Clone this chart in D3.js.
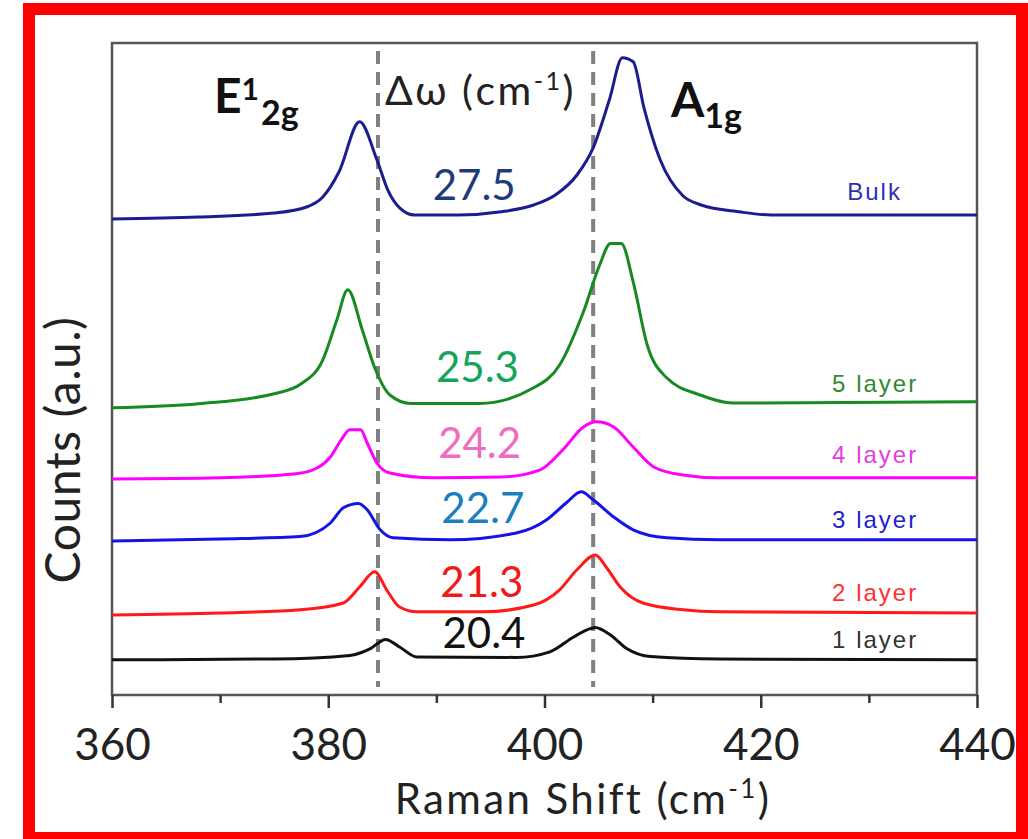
<!DOCTYPE html>
<html>
<head>
<meta charset="utf-8">
<script src="https://cdn.jsdelivr.net/npm/d3@7"></script>
<style>
  body { margin: 0; background: #fff; }
  svg text { font-family: "Lato", "Open Sans", sans-serif; }
</style>
</head>
<body>
<div id="chart"></div>
<script>
// Raman shift (cm-1) vs counts (a.u.), one trace per sample
const layers = ["Bulk", "5 layer", "4 layer", "3 layer", "2 layer", "1 layer"];
const deltas = ["27.5", "25.3", "24.2", "22.7", "21.3", "20.4"];

const bulk = [[360,119],[368,119.5],[375,120.5],[378,122],[379.5,124.5],[381,130.8],[382.9,143.3],
  [384.5,133.8],[385.5,126.3],[386.6,121.8],[388,120],[392,120],[396,120.8],[399,122.5],[401,125],
  [403,130],[404.5,136.8],[406,148.8],[407.2,159.3],[408.2,158.3],[409.2,146.8],[410.7,133.8],
  [412.8,124.8],[414.5,122.5],[418,120.8],[421,120],[440,120]];
const layer5 = [[360,71.8],[368,72.8],[375,75.3],[377.5,77.8],[379.5,83.8],[380.8,93.8],[381.8,101.3],
  [383.2,90.8],[384.3,81.8],[385.7,75],[387.6,72.9],[394,72.9],[399,76.8],[401.4,82.5],[403.6,95.8],
  [405.1,107.5],[406.1,112.9],[407.1,112.9],[408.2,103.3],[409.5,87.5],[411.3,79.3],[414.4,75],
  [417.4,73],[440,73.3]];
const layer4 = [[360,54],[370,54.3],[377,55.3],[379,56.8],[380.2,59.5],[381.2,63.8],[382,66.3],[383,66.3],
  [383.6,63],[384.5,58],[385.7,55.5],[389.7,54.3],[396,54.5],[399.6,56.3],[401.7,61.3],[403.6,67],
  [404.8,68.3],[406.4,67],[408.2,62],[410.1,57],[412.8,55],[416,54.3],[440,54.3]];
const layer3 = [[360,38.5],[370,39],[377.4,39.6],[380.2,43],[381.4,46.8],[382.8,47.9],[383.6,46.3],
  [384.8,41.3],[386,39.3],[391.3,38.8],[397.4,40.5],[400.2,43.8],[402,48],[403.4,50.8],[404.5,48.8],
  [406.4,44.5],[408.2,41.3],[411.3,39.3],[416.2,38.8],[440,38.8]];
const layer2 = [[360,20],[370,20.5],[377.4,21.3],[381.4,23],[382.9,27],[384.3,30.8],[385.4,26.3],
  [386.6,22],[388.2,20.8],[394.3,20.8],[399,22.5],[401.4,26.3],[403,31.3],[404.7,35],[405.7,32],
  [407,27],[409.1,23],[412.8,21.3],[416.2,20.8],[440,20.5]];
const layer1 = [[360,8.8],[375,9],[382,9.9],[383.9,11.6],[385.3,13.9],[386.6,12],[388.2,9.5],
  [397.4,9.4],[400.5,10.8],[402.7,14.5],[404.7,16.9],[406.1,15],[407.6,11.6],[409.8,9.6],
  [416.2,9],[440,8.8]];
const spectra = [bulk, layer5, layer4, layer3, layer2, layer1];

const xTicks = [360, 380, 400, 420, 440];
const xMinorTicks = [370, 390, 410, 430];
const peakRefs = [384.6, 404.5];   // dashed guides at the monolayer peaks

// label anchors in data units (shift, counts)
const deltaPos = [[393.5,123.8],[393.8,78.3],[394,59.3],[394.3,43],[394.2,24.5],[394.4,11.8]];
const layerPos = [[428,123.8],[426.6,75.8],[426.6,58],[426.6,41.8],[426.6,23.5],[426.6,11.8]];

const lineColors  = ["#1c1c8e", "#178a22", "#ff00ff", "#1414e6", "#ff1a1a", "#111111"];
const layerColors = ["#2f2fb0", "#2e8b2e", "#e040e0", "#2222d0", "#ff3030", "#333333"];
const deltaColors = ["#1f3a7a", "#14a45a", "#f06cc0", "#1a7fc0", "#f01818", "#111111"];

const width = 1028, height = 839;
const plot = { left: 112, right: 977, top: 43, bottom: 695 };

const svg = d3.select("#chart").append("svg")
  .attr("width", width)
  .attr("height", height);

const x = d3.scaleLinear().domain([360, 440]).range([plot.left, plot.right]);
const y = d3.scaleLinear().domain([0, 163]).range([plot.bottom, plot.top]);

// red frame around the figure
svg.append("rect")
  .attr("x", 29).attr("y", 9)
  .attr("width", 993).attr("height", 829)
  .attr("fill", "none")
  .attr("stroke", "#ff0000")
  .attr("stroke-width", 12);

// plot box
svg.append("rect")
  .attr("x", plot.left).attr("y", plot.top)
  .attr("width", plot.right - plot.left).attr("height", plot.bottom - plot.top)
  .attr("fill", "none")
  .attr("stroke", "#555")
  .attr("stroke-width", 2.5);

// dashed guide lines
svg.selectAll(".guide")
  .data(peakRefs)
  .enter()
  .append("line")
  .attr("class", "guide")
  .attr("x1", d => x(d)).attr("x2", d => x(d))
  .attr("y1", y(161)).attr("y2", y(2))
  .attr("stroke", "#808080")
  .attr("stroke-width", 4)
  .attr("stroke-dasharray", "13,8");

// spectra
const line = d3.line()
  .x(d => x(d[0]))
  .y(d => y(d[1]))
  .curve(d3.curveMonotoneX);

svg.selectAll(".spectrum")
  .data(spectra)
  .enter()
  .append("path")
  .attr("class", "spectrum")
  .attr("d", line)
  .attr("fill", "none")
  .attr("stroke", (d, i) => lineColors[i])
  .attr("stroke-width", 3)
  .attr("stroke-linejoin", "round");

// x axis, major + minor ticks
const axisG = svg.append("g")
  .attr("transform", `translate(0,${plot.bottom})`)
  .call(d3.axisBottom(x).tickValues(xTicks).tickSize(13).tickPadding(21).tickFormat(d3.format("d")));
axisG.select(".domain").remove();
axisG.selectAll(".tick line").attr("stroke", "#333").attr("stroke-width", 2.5);
axisG.selectAll(".tick text")
  .attr("font-size", 44)
  .attr("fill", "#222")
  .style("font-family", "Lato, 'Open Sans', sans-serif");

const minorG = svg.append("g")
  .attr("transform", `translate(0,${plot.bottom})`)
  .call(d3.axisBottom(x).tickValues(xMinorTicks).tickSize(8).tickFormat(""));
minorG.select(".domain").remove();
minorG.selectAll(".tick line").attr("stroke", "#333").attr("stroke-width", 2.5);

// axis titles
const xTitle = svg.append("text")
  .attr("x", 583).attr("y", 814)
  .attr("text-anchor", "middle")
  .attr("font-size", 42)
  .attr("letter-spacing", 2.4)
  .attr("fill", "#222");
xTitle.append("tspan").text("Raman Shift (cm");
xTitle.append("tspan").attr("font-size", 26).attr("dy", -16).text("-1");
xTitle.append("tspan").attr("dy", 16).text(")");

svg.append("text")
  .attr("transform", "translate(80,450) rotate(-90)")
  .attr("text-anchor", "middle")
  .attr("font-size", 48)
  .attr("letter-spacing", 0.5)
  .attr("fill", "#222")
  .text("Counts (a.u.)");

// mode labels
const eLabel = svg.append("text")
  .attr("x", 214).attr("y", 113)
  .attr("font-size", 48).attr("font-weight", 700).attr("fill", "#111");
eLabel.append("tspan").text("E");
eLabel.append("tspan").attr("font-size", 30).attr("dy", -13).text("1");
eLabel.append("tspan").attr("font-size", 34).attr("dy", 25).attr("dx", 2).text("2g");

const aLabel = svg.append("text")
  .attr("x", 671).attr("y", 117)
  .attr("font-size", 48).attr("font-weight", 700).attr("fill", "#111");
aLabel.append("tspan").text("A");
aLabel.append("tspan").attr("font-size", 34).attr("dy", 11).text("1g");

const dLabel = svg.append("text")
  .attr("x", 385).attr("y", 105)
  .attr("font-size", 41).attr("letter-spacing", 2.5).attr("fill", "#222");
dLabel.append("tspan").text("\u0394\u03c9 (cm");
dLabel.append("tspan").attr("font-size", 25).attr("dy", -15).text("-1");
dLabel.append("tspan").attr("dy", 15).text(")");

// peak separation values
svg.selectAll(".delta")
  .data(deltas)
  .enter()
  .append("text")
  .attr("class", "delta")
  .attr("x", (d, i) => x(deltaPos[i][0]))
  .attr("y", (d, i) => y(deltaPos[i][1]))
  .attr("text-anchor", "middle")
  .attr("font-size", 42)
  .attr("fill", (d, i) => deltaColors[i])
  .text(d => d);

// sample names
svg.selectAll(".layer")
  .data(layers)
  .enter()
  .append("text")
  .attr("class", "layer")
  .attr("x", (d, i) => x(layerPos[i][0]))
  .attr("y", (d, i) => y(layerPos[i][1]))
  .attr("font-size", 24)
  .attr("letter-spacing", 2)
  .style("font-family", "'Liberation Sans', Arial, sans-serif")
  .attr("fill", (d, i) => layerColors[i])
  .text(d => d);
</script>
</body>
</html>
